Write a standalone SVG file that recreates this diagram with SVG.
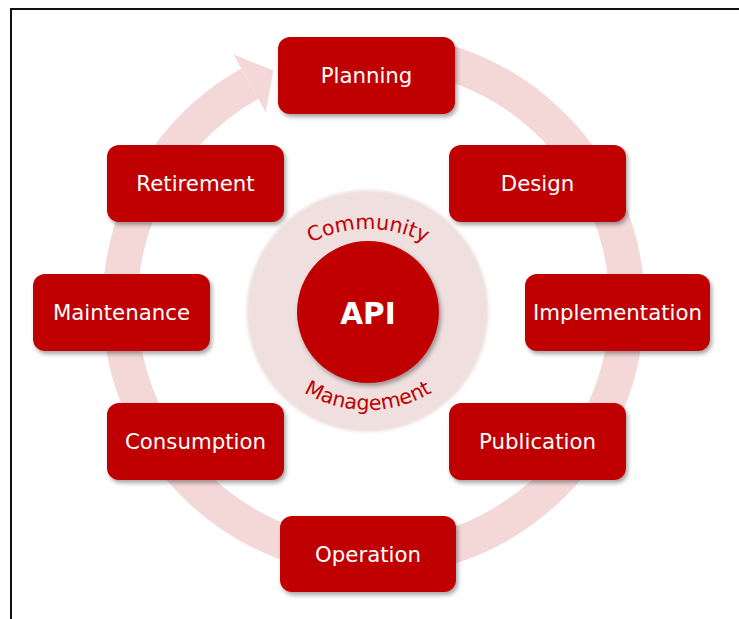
<svg xmlns="http://www.w3.org/2000/svg" width="739" height="619" viewBox="0 0 739 619">
  <style>
    .box { fill: #c00000; filter: url(#shadow); }
    .lbl { fill: #ffffff; font-family: "DejaVu Sans", "Noto Sans", sans-serif; font-size: 21.3px; text-anchor: middle; }
    .arc { fill: #c00000; font-family: "DejaVu Sans", "Noto Sans", sans-serif; font-size: 20.5px; }
    .ring { fill: none; stroke: #f4d8d8; stroke-width: 35; }
  </style>
  <defs>
    <filter id="shadow" x="-10%" y="-10%" width="130%" height="140%">
      <feDropShadow dx="2" dy="3" stdDeviation="2" flood-color="#000" flood-opacity="0.35"/>
    </filter>
    <filter id="soft" x="-10%" y="-10%" width="120%" height="120%">
      <feGaussianBlur stdDeviation="1.5"/>
    </filter>
    <path id="topArc" d="M 243,354 A 125 125 0 0 1 493,354"/>
    <path id="botArc" d="M 243,285 A 125 125 0 0 0 493,285"/>
  </defs>

  <rect x="0" y="0" width="739" height="619" fill="#ffffff"/>
  <path d="M 11,619 V 9 H 739" fill="none" stroke="#111" stroke-width="2"/>

  <g id="connectors">
    <path class="ring" d="M 439.1,60.1 A 253.5 253.5 0 1 1 249.8,83.7"/>
    <polygon points="233.5,54.5 273.4,70.5 265.7,112.1" fill="#f4d8d8"/>
  </g>

  <g id="center">
    <circle cx="367.5" cy="311" r="121" fill="#efdfdf" filter="url(#soft)"/>
    <circle cx="368" cy="312" r="71" fill="#c00000" filter="url(#shadow)"/>
    <text x="368" y="324" fill="#ffffff" font-family="'DejaVu Sans', sans-serif" font-size="29.5" font-weight="bold" text-anchor="middle">API</text>
    <text class="arc"><textPath href="#topArc" startOffset="50%" text-anchor="middle">Community</textPath></text>
    <text class="arc"><textPath href="#botArc" startOffset="50%" text-anchor="middle">Management</textPath></text>
  </g>

  <g id="planning"><rect class="box" x="278" y="37" width="177" height="77" rx="12"/><text class="lbl" x="366.5" y="82.5">Planning</text></g>
  <g id="design"><rect class="box" x="449" y="145" width="177" height="77" rx="12"/><text class="lbl" x="537.5" y="190.5">Design</text></g>
  <g id="retirement"><rect class="box" x="107" y="145" width="177" height="77" rx="12"/><text class="lbl" x="195.5" y="190.5">Retirement</text></g>
  <g id="maintenance"><rect class="box" x="33" y="274" width="177" height="77" rx="12"/><text class="lbl" x="121.5" y="319.5">Maintenance</text></g>
  <g id="implementation"><rect class="box" x="525" y="274" width="185" height="77" rx="12"/><text class="lbl" x="617.5" y="319.5">Implementation</text></g>
  <g id="consumption"><rect class="box" x="107" y="403" width="177" height="77" rx="12"/><text class="lbl" x="195.5" y="448.5">Consumption</text></g>
  <g id="publication"><rect class="box" x="449" y="403" width="177" height="77" rx="12"/><text class="lbl" x="537.5" y="448.5">Publication</text></g>
  <g id="operation"><rect class="box" x="280" y="516" width="176" height="76" rx="12"/><text class="lbl" x="368" y="561.5">Operation</text></g>
</svg>
